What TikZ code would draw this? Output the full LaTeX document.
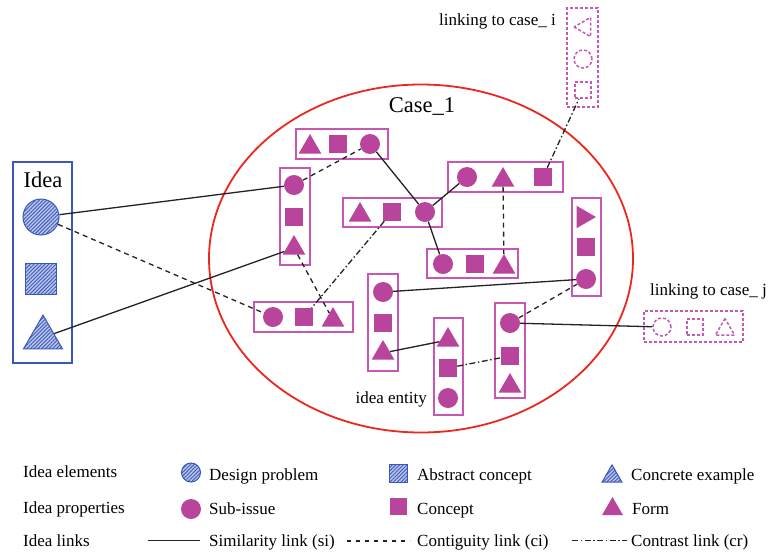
\documentclass[tikz,border=0pt]{standalone}
\usepackage{fontspec}
\setmainfont{Liberation Serif}
\usetikzlibrary{shapes.geometric,patterns.meta}

\definecolor{ideamag}{RGB}{184,68,156}
\definecolor{boxmag}{RGB}{198,88,180}
\definecolor{ideablue}{RGB}{58,88,188}
\definecolor{caseRed}{RGB}{236,40,30}
\definecolor{linkgray}{RGB}{35,35,35}

\begin{document}
\begin{tikzpicture}[x=1pt,y=-1pt,
  txt/.style={font=\fontsize{17}{20}\selectfont, inner sep=0pt, text=black},
  bigtxt/.style={font=\fontsize{22.5}{26}\selectfont, inner sep=0pt, text=black},
  pcirc/.style={circle, fill=ideamag, inner sep=0pt, minimum size=20pt},
  psq/.style={rectangle, fill=ideamag, inner sep=0pt, minimum size=18pt},
  ptri/.style={regular polygon, regular polygon sides=3, fill=ideamag, inner sep=0pt, minimum size=26pt},
  entity/.style={rectangle, draw=boxmag, line width=1.5pt, inner sep=0pt},
  ghost/.style={draw=boxmag, line width=1.5pt, dash pattern=on 3pt off 2pt, inner sep=0pt},
  hatched/.style={draw=ideablue, line width=1pt, fill=ideablue!35, inner sep=0pt,
    postaction={pattern={Lines[angle=45,distance=2.6pt,line width=0.9pt]}, pattern color=ideablue}},
  silink/.style={draw=linkgray, line width=1.3pt},
  cilink/.style={silink, dash pattern=on 5pt off 4pt},
  crlink/.style={silink, dash pattern=on 6pt off 2.5pt on 1.5pt off 2.5pt}
]
\useasboundingbox (0,0) rectangle (773,552);
\fill[white] (0,0) rectangle (773,552);

% ---- the case boundary ----
\draw[caseRed, line width=1.8pt] (421,258.5) ellipse [x radius=212, y radius=174];
\node[bigtxt, anchor=base] (casename) at (422,112) {Case\_1};

% ---- the idea ----
\node[rectangle, draw=ideablue, line width=1.4pt, minimum width=59pt, minimum height=201pt, inner sep=0pt] (ideabox) at (42.5,262.5) {};
\node[bigtxt, anchor=base] (ideaname) at (43,187) {Idea};
\node[hatched, circle, minimum size=36pt] (ideaC) at (41,217) {};
\node[hatched, rectangle, minimum size=31pt] (ideaS) at (41,279) {};
\node[hatched, regular polygon, regular polygon sides=3, minimum size=45pt] (ideaT) at (43,337.6) {};

% ---- idea entities inside the case ----
% A
\node[entity, minimum width=92pt, minimum height=30pt] (boxA) at (342,144) {};
\node[ptri] (tA) at (310,147) {};
\node[psq]  (sA) at (338,144) {};
\node[pcirc](cA) at (370,144) {};
% B
\node[entity, minimum width=30pt, minimum height=97pt] (boxB) at (295,216.5) {};
\node[pcirc](cB) at (294,185) {};
\node[psq]  (sB) at (294,217) {};
\node[ptri] (tB) at (294,248) {};
% C
\node[entity, minimum width=99pt, minimum height=29pt] (boxC) at (392.5,212.5) {};
\node[ptri] (tC) at (360,215) {};
\node[psq]  (sC) at (392,212) {};
\node[pcirc](cC) at (425,212) {};
% D
\node[entity, minimum width=115pt, minimum height=30pt] (boxD) at (505.5,177) {};
\node[pcirc](cD) at (467,177) {};
\node[ptri] (tD) at (503,180) {};
\node[psq]  (sD) at (543,177) {};
% E
\node[entity, minimum width=91pt, minimum height=29pt] (boxE) at (472.5,263.5) {};
\node[pcirc](cE) at (443,264) {};
\node[psq]  (sE) at (475,264) {};
\node[ptri] (tE) at (504,267) {};
% F
\node[entity, minimum width=29pt, minimum height=98pt] (boxF) at (586.5,247) {};
\node[ptri, shape border rotate=-90] (tF) at (583,217) {};
\node[psq]  (sF) at (586,247) {};
\node[pcirc](cF) at (586,279) {};
% G
\node[entity, minimum width=99pt, minimum height=30pt] (boxG) at (303.5,317) {};
\node[pcirc](cG) at (273,317) {};
\node[psq]  (sG) at (304,317) {};
\node[ptri] (tG) at (333,320) {};
% H
\node[entity, minimum width=30pt, minimum height=97pt] (boxH) at (383,322.5) {};
\node[pcirc](cH) at (383,292) {};
\node[psq]  (sH) at (383,323) {};
\node[ptri] (tH) at (383,353) {};
% I
\node[entity, minimum width=29pt, minimum height=97pt] (boxI) at (448.5,366.5) {};
\node[ptri] (tI) at (448,340) {};
\node[psq]  (sI) at (448,368) {};
\node[pcirc](cI) at (448,398) {};
% J
\node[entity, minimum width=30pt, minimum height=95pt] (boxJ) at (510,350.5) {};
\node[pcirc](cJ) at (510,323) {};
\node[psq]  (sJ) at (510,356) {};
\node[ptri] (tJ) at (510,386) {};

\node[txt, anchor=base east] (entitylabel) at (427,403) {idea entity};

% ---- entities of other cases ----
\node[ghost, rectangle, minimum width=31pt, minimum height=99pt] (boxCi) at (582.5,57.5) {};
\node[ghost, regular polygon, regular polygon sides=3, shape border rotate=90, minimum size=22pt] (tCi) at (585,27) {};
\node[ghost, circle, minimum size=18pt] (cCi) at (583,59) {};
\node[ghost, rectangle, minimum size=16pt] (sCi) at (583,90) {};
\node[txt, anchor=base east] (caseilabel) at (556,25) {linking to case\_\ i};

\node[ghost, rectangle, minimum width=99pt, minimum height=31pt] (boxCj) at (693.5,326.5) {};
\node[ghost, circle, minimum size=18pt] (cCj) at (662,327) {};
\node[ghost, rectangle, minimum size=16pt] (sCj) at (695,327) {};
\node[ghost, regular polygon, regular polygon sides=3, minimum size=22pt] (tCj) at (725,329.5) {};
\node[txt, anchor=base west] (casejlabel) at (650,295) {linking to case\_\ j};

% ---- idea links ----
\draw[silink] (ideaC) -- (cB);
\draw[cilink] (ideaC) -- (cG);
\draw[silink] (ideaT) -- (tB);
\draw[cilink] (cB) -- (cA);
\draw[silink] (cA) -- (cC);
\draw[silink] (cC) -- (cD);
\draw[silink] (cC) -- (cE);
\draw[cilink] (tD) -- (tE);
\draw[crlink] (sD) -- (sCi);
\draw[crlink] (sC) -- (sG);
\draw[cilink] (tB) -- (tG);
\draw[silink] (cH) -- (cF);
\draw[cilink] (cJ) -- (cF);
\draw[silink] (cJ) -- (cCj);
\draw[silink] (tH) -- (tI);
\draw[crlink] (sI) -- (sJ);

% ---- legend ----
\node[txt, anchor=base west] (lgElem) at (23,477) {Idea elements};
\node[txt, anchor=base west] (lgProp) at (23,513) {Idea properties};
\node[txt, anchor=base west] (lgLink) at (23,546) {Idea links};

\node[hatched, circle, minimum size=19pt] (lgDP) at (191,472.5) {};
\node[txt, anchor=base west] at (209,480) {Design problem};
\node[hatched, rectangle, minimum size=18pt] (lgAC) at (398,473.5) {};
\node[txt, anchor=base west] at (417,480) {Abstract concept};
\node[hatched, regular polygon, regular polygon sides=3, minimum size=23pt] (lgCE) at (612,476.4) {};
\node[txt, anchor=base west] at (631,480) {Concrete example};

\node[pcirc, minimum size=20pt] (lgSI) at (191,509) {};
\node[txt, anchor=base west] at (209,514) {Sub-issue};
\node[psq, minimum size=17pt] (lgCo) at (398,506) {};
\node[txt, anchor=base west] at (417,514) {Concept};
\node[ptri, minimum size=24pt] (lgFo) at (612.5,509) {};
\node[txt, anchor=base west] at (632,514) {Form};

\draw[silink] (148,540.5) -- (200,540.5);
\node[txt, anchor=base west] at (209,546) {Similarity link (si)};
\draw[cilink, dash pattern=on 4pt off 5pt] (347,541) -- (410,541);
\node[txt, anchor=base west] at (417,546) {Contiguity link (ci)};
\draw[crlink, dash pattern=on 6pt off 2.5pt on 1.5pt off 2.5pt] (572,540.5) -- (627,540.5);
\node[txt, anchor=base west] at (631,546) {Contrast link (cr)};
\end{tikzpicture}
\end{document}
